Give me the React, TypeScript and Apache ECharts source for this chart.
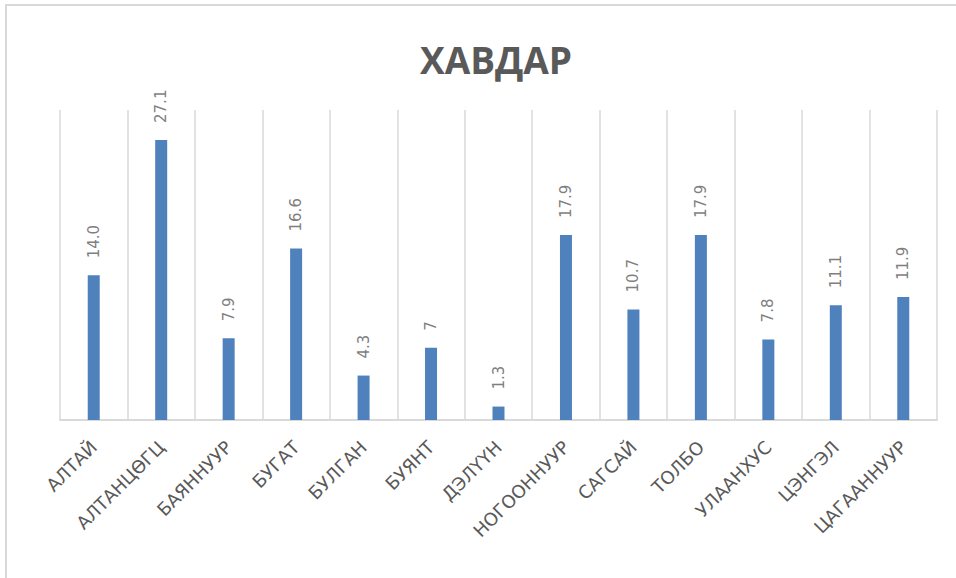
import React, { useEffect, useRef } from "react";
import * as echarts from "echarts";

const titleText = "ХАВДАР";
const categories = [
  "АЛТАЙ",
  "АЛТАНЦӨГЦ",
  "БАЯННУУР",
  "БУГАТ",
  "БУЛГАН",
  "БУЯНТ",
  "ДЭЛҮҮН",
  "НОГООННУУР",
  "САГСАЙ",
  "ТОЛБО",
  "УЛААНХУС",
  "ЦЭНГЭЛ",
  "ЦАГААННУУР",
];
const values = [14.0, 27.1, 7.9, 16.6, 4.3, 7, 1.3, 17.9, 10.7, 17.9, 7.8, 11.1, 11.9];
const valueLabels = ["14.0", "27.1", "7.9", "16.6", "4.3", "7", "1.3", "17.9", "10.7", "17.9", "7.8", "11.1", "11.9"];

export default function App() {
  const ref = useRef<HTMLDivElement>(null);
  useEffect(() => {
    if (!ref.current) return;
    const chart = echarts.init(ref.current, undefined, { renderer: "svg" });
    chart.setOption({
      animation: false,
      backgroundColor: "#ffffff",
      graphic: [
        {
          type: "line",
          shape: { x1: 6, y1: 5, x2: 6, y2: 578 },
          style: { stroke: "#D9D9D9", lineWidth: 2 },
          silent: true,
        },
        {
          type: "line",
          shape: { x1: 5, y1: 5, x2: 956, y2: 5 },
          style: { stroke: "#D9D9D9", lineWidth: 2 },
          silent: true,
        },
        {
          type: "text",
          x: 496,
          y: 59,
          style: {
            text: titleText,
            fill: "#595959",
            font: "bold 37px 'Open Sans'",
            textAlign: "center",
            textVerticalAlign: "middle",
          },
          silent: true,
        },
      ],
      grid: { left: 60, right: 19, top: 110, bottom: 158, containLabel: false },
      xAxis: {
        type: "category",
        data: categories,
        boundaryGap: true,
        axisLine: { show: true, lineStyle: { color: "#D9D9D9", width: 2 } },
        axisTick: { show: false },
        splitLine: { show: true, lineStyle: { color: "#D9D9D9", width: 1.5 } },
        axisLabel: {
          interval: 0,
          rotate: 45,
          margin: 24,
          color: "#595959",
          fontSize: 18,
          fontFamily: "DejaVu Sans",
        },
      },
      yAxis: {
        type: "value",
        min: 0,
        max: 30,
        show: false,
        splitLine: { show: false },
      },
      series: [
        {
          type: "bar",
          data: values,
          barWidth: 12,
          itemStyle: { color: "#4F81BD" },
          label: {
            show: true,
            position: "top",
            rotate: 90,
            align: "left",
            verticalAlign: "middle",
            distance: 17,
            color: "#7F7F7F",
            fontSize: 15,
            fontFamily: "DejaVu Sans",
            formatter: (p: any) => valueLabels[p.dataIndex],
          },
        },
      ],
    });
    return () => chart.dispose();
  }, []);
  return (
    <div
      ref={ref}
      style={{ position: "absolute", left: 0, top: 0, width: 956, height: 578 }}
    />
  );
}
